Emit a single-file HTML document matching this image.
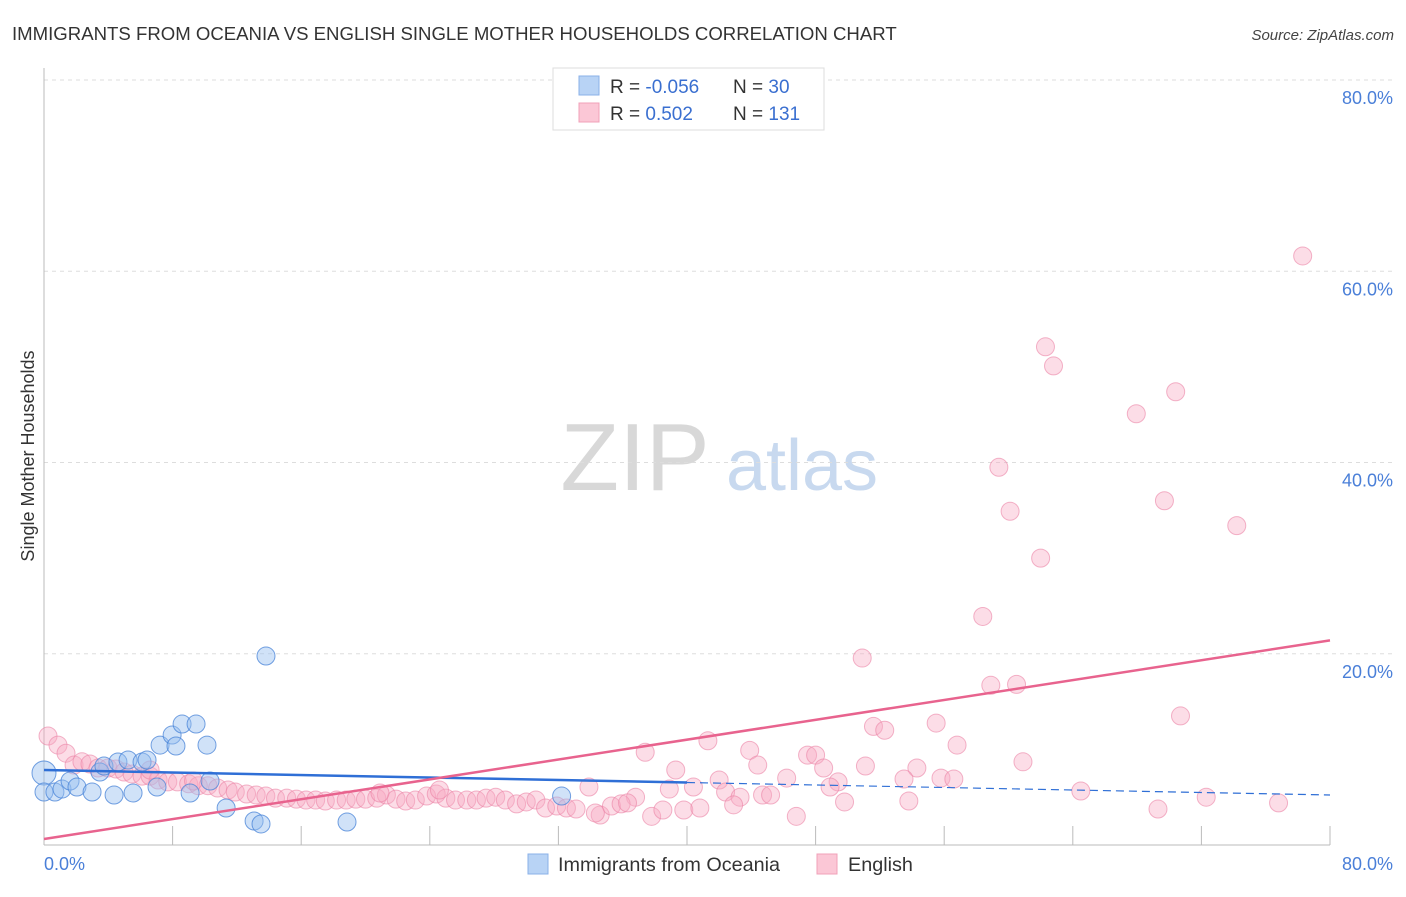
<!DOCTYPE html>
<html><head><meta charset="utf-8"><style>
body{margin:0;background:#fff;font-family:"Liberation Sans",sans-serif;}
svg text{font-family:"Liberation Sans",sans-serif;}
</style></head><body>
<svg id="chart" width="1406" height="892" xmlns="http://www.w3.org/2000/svg">
<text x="12" y="40" font-size="18.6" fill="#333">IMMIGRANTS FROM OCEANIA VS ENGLISH SINGLE MOTHER HOUSEHOLDS CORRELATION CHART</text>
<text x="1394" y="40" font-size="15" fill="#444" text-anchor="end" font-style="italic">Source: ZipAtlas.com</text>
<text transform="translate(34,456) rotate(-90)" font-size="18" fill="#333" text-anchor="middle">Single Mother Households</text>
<g>
<text x="635" y="490" font-size="96" fill="#d8d8d8" text-anchor="middle" font-family="Liberation Serif">ZIP</text>
<text x="802" y="490" font-size="72" fill="#c8d9ef" text-anchor="middle">atlas</text>
</g>
<g id="grid"></g><g id="axes"></g><g id="pts"></g><g id="lines"></g>
<g>
<rect x="553" y="68" width="271" height="62" fill="#fff" stroke="#ddd"/>
<rect x="579" y="76" width="20" height="19" fill="#b8d3f5" stroke="#8ab0e8"/>
<rect x="579" y="103" width="20" height="19" fill="#fbc7d6" stroke="#f0a0b8"/>
<text x="610" y="93" font-size="19" fill="#333">R = <tspan fill="#3a6fd0">-0.056</tspan></text>
<text x="733" y="93" font-size="19" fill="#333">N = <tspan fill="#3a6fd0"> 30</tspan></text>
<text x="610" y="120" font-size="19" fill="#333">R = <tspan fill="#3a6fd0">  0.502</tspan></text>
<text x="733" y="120" font-size="19" fill="#333">N = <tspan fill="#3a6fd0">131</tspan></text>
</g>
<g>
<rect x="528" y="854" width="20" height="20" fill="#b8d3f5" stroke="#8ab0e8"/>
<text x="558" y="871" font-size="19.8" fill="#333">Immigrants from Oceania</text>
<rect x="817" y="854" width="20" height="20" fill="#fbc7d6" stroke="#f0a0b8"/>
<text x="848" y="871" font-size="19.8" fill="#333">English</text>
</g>
</svg>
<script>
const yTicks=[20,40,60,80];
const yTickLabels=["20.0%","40.0%","60.0%","80.0%"];
const blueX=[0,0,0.68,1.12,1.62,2.05,2.99,3.48,3.73,4.36,4.6,5.23,5.54,6.1,6.41,7.03,7.22,7.97,8.21,8.59,9.46,10.14,10.33,9.09,11.33,13.07,13.5,13.81,18.85,32.2];
const blueY=[7.53,5.54,5.54,5.85,6.69,6.06,5.54,7.63,8.26,5.23,8.68,8.89,5.44,8.68,8.89,6.06,10.45,11.5,10.35,12.65,12.65,10.45,6.69,5.44,3.87,2.51,2.2,19.76,2.4,5.12];
const pinkX=[78.3,62.3,62.8,70.4,67.95,59.4,69.7,60.1,74.2,62.0,58.4,50.9,58.9,60.5,70.7,55.5,51.6,52.3,56.8,41.3,37.4,43.9,47.5,48.0,60.9,54.3,51.1,48.5,44.4,39.3,46.2,42.0,53.5,55.8,56.6,49.4,48.9,38.9,40.4,42.4,44.7,45.2,43.3,42.9,64.5,53.8,49.8,72.3,76.8,69.3,46.8,37.8,38.5,39.8,40.8,36.8,33.9,34.6,35.3,35.9,36.3,34.3,
0.25,0.87,1.37,1.87,2.36,2.86,3.36,3.98,4.48,4.98,5.48,6.1,6.6,7.1,7.7,8.3,9.0,9.6,10.2,10.8,11.45,11.9,12.6,13.2,13.8,14.4,15.1,15.7,16.3,16.9,17.5,18.2,18.8,19.4,20.0,20.7,21.3,21.9,22.5,23.1,23.8,24.4,25.0,25.6,26.3,26.9,27.5,28.1,28.7,29.4,30.0,30.6,31.2,31.9,32.5,33.1,24.6,20.9,9.3,6.6];
const pinkY=[61.6,52.1,50.1,47.4,45.1,39.5,36.0,34.9,33.4,30.0,23.9,19.55,16.7,16.8,13.5,12.75,12.4,12.0,10.45,10.9,9.7,9.9,9.4,9.4,8.7,8.05,8.26,8.05,8.36,7.84,7.0,6.8,6.9,7.0,6.9,6.6,6.06,5.85,6.06,5.54,5.23,5.23,5.0,4.2,5.65,4.6,4.5,5.0,4.4,3.76,3.0,3.0,3.66,3.66,3.87,5.0,6.06,3.14,4.08,4.3,4.4,3.35,
11.4,10.45,9.6,8.36,8.7,8.47,8.05,8.05,7.95,7.63,7.42,7.2,7.2,6.8,6.6,6.6,6.4,6.2,6.2,5.96,5.75,5.54,5.33,5.23,5.12,4.9,4.9,4.8,4.7,4.7,4.6,4.7,4.7,4.8,4.8,4.9,5.23,4.8,4.6,4.7,5.12,5.33,4.9,4.7,4.7,4.7,4.9,5.0,4.7,4.3,4.5,4.7,3.87,4.08,3.87,3.76,5.75,5.44,6.69,7.84];
const blueTrend=[7.84,5.23];
const pinkTrend=[0.63,21.4];
const NS="http://www.w3.org/2000/svg";
const X0=44,X1=1330,Y0=845,Y80=80;
const sx=v=>X0+(X1-X0)*v/80;
const sy=v=>Y0-(Y0-Y80)*v/80;
function mk(t,a,p){const e=document.createElementNS(NS,t);for(const k in a)e.setAttribute(k,a[k]);p.appendChild(e);return e;}
const grid=document.getElementById('grid'),axes=document.getElementById('axes'),pts=document.getElementById('pts'),lines=document.getElementById('lines');
yTicks.forEach((t,i)=>{
 const l=mk('line',{x1:X0,x2:1394,y1:sy(t),y2:sy(t),stroke:'#ddd','stroke-dasharray':'4,4'},grid);
 
 
 const tx=mk('text',{x:1393,y:sy(t)+24,'font-size':18,fill:'#4a7fd8','text-anchor':'end'},axes);
 tx.textContent=yTickLabels[i];
 
 
});
const ya=mk('line',{x1:X0,x2:X0,y1:68,y2:Y0,stroke:'#bbb'},axes);


const xa=mk('line',{x1:X0,x2:X1,y1:Y0,y2:Y0,stroke:'#bbb'},axes);


for(let i=1;i<=10;i++){const t=mk('line',{x1:sx(i*8),x2:sx(i*8),y1:826,y2:Y0,stroke:'#bbb'},axes);
 
 }
[[0,"0.0%",'start',44],[80,"80.0%",'end',1393]].forEach(d=>{const t=mk('text',{x:d[3],y:870,'font-size':18,fill:'#4a7fd8','text-anchor':d[2]},axes);t.textContent=d[1];
 
 });
pinkX.forEach((x,i)=>{const c=mk('circle',{cx:sx(x),cy:sy(pinkY[i]),r:9,fill:'rgba(248,170,195,0.4)',stroke:'rgba(235,130,165,0.6)','stroke-width':1},pts);
 
 });
blueX.forEach((x,i)=>{const c=mk('circle',{cx:sx(x),cy:sy(blueY[i]),r:i==0?12:9,fill:'rgba(150,190,240,0.45)',stroke:'rgba(70,130,215,0.75)','stroke-width':1},pts);
 
 });
const by=x=>blueTrend[0]+(blueTrend[1]-blueTrend[0])*x/80;
const b1=mk('line',{x1:sx(0),y1:sy(by(0)),x2:sx(40),y2:sy(by(40)),stroke:'#2f6fd6','stroke-width':2.5},lines);


const b2=mk('line',{x1:sx(40),y1:sy(by(40)),x2:sx(80),y2:sy(by(80)),stroke:'#2f6fd6','stroke-width':1.2,'stroke-dasharray':'8,5'},lines);


const p=mk('line',{x1:sx(0),y1:sy(pinkTrend[0]),x2:sx(80),y2:sy(pinkTrend[1]),stroke:'#e8638e','stroke-width':2.5},lines);


</script>
</body></html>
